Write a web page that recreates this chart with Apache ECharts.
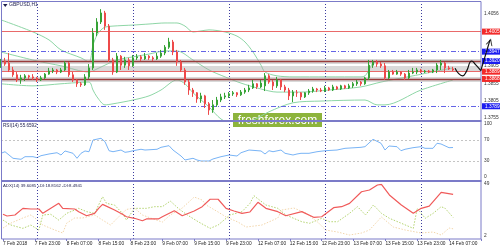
<!DOCTYPE html>
<html><head><meta charset="utf-8">
<script src="https://cdn.jsdelivr.net/npm/echarts@6/dist/echarts.min.js"></script>
<style>html,body{margin:0;padding:0;background:#fff}#c{width:500px;height:250px}</style>
</head><body><div id="c"></div>
<script>
// ---------- data ----------
const tickLabels = ['7 Feb 2018','7 Feb 23:00','8 Feb 07:00','8 Feb 15:00','8 Feb 23:00','9 Feb 07:00','9 Feb 15:00','9 Feb 23:00','12 Feb 07:00','12 Feb 15:00','12 Feb 23:00','13 Feb 07:00','13 Feb 15:00','13 Feb 23:00','14 Feb 07:00'];
const separators = [9, 33, 57, 81, 105];
// [open, close, low, high]
const candles = [
[1.3908,1.3920,1.3900,1.3926],[1.3920,1.3911,1.3906,1.3929],[1.3914,1.3894,1.3888,1.3943],[1.3894,1.3880,1.3874,1.3903],
[1.3880,1.3865,1.3859,1.3888],[1.3865,1.3871,1.3854,1.3880],[1.3871,1.3877,1.3862,1.3882],[1.3877,1.3874,1.3868,1.3880],
[1.3874,1.3871,1.3865,1.3882],[1.3871,1.3865,1.3859,1.3874],[1.3865,1.3871,1.3862,1.3877],[1.3871,1.3882,1.3868,1.3885],
[1.3882,1.3891,1.3880,1.3900],[1.3891,1.3894,1.3885,1.3900],[1.3894,1.3888,1.3882,1.3897],[1.3888,1.3894,1.3885,1.3900],
[1.3894,1.3914,1.3891,1.3920],[1.3914,1.3880,1.3874,1.3917],[1.3880,1.3865,1.3859,1.3888],[1.3865,1.3854,1.3845,1.3868],
[1.3854,1.3851,1.3845,1.3859],[1.3851,1.3874,1.3848,1.3882],[1.3874,1.3900,1.3868,1.3911],[1.3900,1.4001,1.3894,1.4015],
[1.4001,1.4033,1.3992,1.4044],[1.4033,1.4059,1.4027,1.4070],[1.4059,1.4021,1.4010,1.4065],[1.4021,1.3923,1.3917,1.4027],
[1.3923,1.3888,1.3880,1.3929],[1.3888,1.3934,1.3885,1.3943],[1.3934,1.3908,1.3894,1.3937],[1.3908,1.3923,1.3900,1.3932],
[1.3923,1.3906,1.3894,1.3929],[1.3906,1.3929,1.3903,1.3937],[1.3929,1.3932,1.3923,1.3940],[1.3932,1.3926,1.3920,1.3937],
[1.3926,1.3934,1.3923,1.3943],[1.3934,1.3929,1.3923,1.3937],[1.3929,1.3926,1.3920,1.3934],[1.3926,1.3934,1.3923,1.3943],
[1.3934,1.3943,1.3929,1.3952],[1.3943,1.3960,1.3937,1.3966],[1.3960,1.3975,1.3955,1.3987],[1.3975,1.3946,1.3937,1.3981],
[1.3946,1.3917,1.3906,1.3952],[1.3917,1.3894,1.3888,1.3923],[1.3894,1.3859,1.3851,1.3900],[1.3859,1.3836,1.3822,1.3865],
[1.3836,1.3828,1.3816,1.3842],[1.3828,1.3810,1.3799,1.3830],[1.3810,1.3819,1.3799,1.3828],[1.3819,1.3796,1.3784,1.3822],
[1.3796,1.3778,1.3764,1.3801],[1.3778,1.3793,1.3770,1.3807],[1.3793,1.3807,1.3787,1.3816],[1.3807,1.3816,1.3801,1.3825],
[1.3816,1.3819,1.3810,1.3828],[1.3819,1.3825,1.3813,1.3830],[1.3825,1.3828,1.3819,1.3833],[1.3828,1.3822,1.3816,1.3830],
[1.3822,1.3830,1.3819,1.3836],[1.3830,1.3836,1.3825,1.3842],[1.3836,1.3842,1.3830,1.3851],[1.3842,1.3854,1.3839,1.3865],
[1.3854,1.3845,1.3839,1.3856],[1.3845,1.3856,1.3842,1.3865],[1.3848,1.3877,1.3833,1.3885],[1.3877,1.3859,1.3854,1.3882],
[1.3859,1.3848,1.3836,1.3865],[1.3848,1.3865,1.3842,1.3874],[1.3865,1.3845,1.3836,1.3868],[1.3845,1.3836,1.3830,1.3851],
[1.3836,1.3819,1.3807,1.3842],[1.3819,1.3830,1.3801,1.3836],[1.3828,1.3828,1.3816,1.3836],[1.3828,1.3816,1.3807,1.3830],
[1.3816,1.3828,1.3813,1.3830],[1.3828,1.3833,1.3822,1.3839],[1.3833,1.3839,1.3828,1.3845],[1.3839,1.3836,1.3830,1.3842],
[1.3836,1.3833,1.3830,1.3842],[1.3833,1.3842,1.3830,1.3848],[1.3842,1.3836,1.3833,1.3845],[1.3836,1.3845,1.3833,1.3851],
[1.3845,1.3839,1.3836,1.3848],[1.3839,1.3848,1.3836,1.3851],[1.3848,1.3842,1.3839,1.3851],[1.3842,1.3848,1.3839,1.3854],
[1.3848,1.3854,1.3842,1.3859],[1.3854,1.3859,1.3848,1.3865],[1.3859,1.3854,1.3848,1.3862],[1.3854,1.3871,1.3851,1.3874],
[1.3871,1.3908,1.3865,1.3923],[1.3908,1.3917,1.3900,1.3923],[1.3917,1.3911,1.3903,1.3923],[1.3911,1.3906,1.3900,1.3917],
[1.3906,1.3871,1.3865,1.3914],[1.3871,1.3888,1.3868,1.3894],[1.3888,1.3882,1.3880,1.3894],[1.3882,1.3888,1.3880,1.3894],
[1.3888,1.3882,1.3877,1.3891],[1.3882,1.3871,1.3865,1.3885],[1.3871,1.3885,1.3868,1.3894],[1.3885,1.3888,1.3882,1.3900],
[1.3888,1.3894,1.3882,1.3900],[1.3894,1.3888,1.3885,1.3897],[1.3888,1.3891,1.3885,1.3894],[1.3891,1.3888,1.3885,1.3894],
[1.3888,1.3894,1.3885,1.3897],[1.3894,1.3908,1.3885,1.3914],[1.3908,1.3914,1.3894,1.3923],[1.3914,1.3900,1.3885,1.3917],
[1.3900,1.3897,1.3894,1.3906],[1.3897,1.3894,1.3891,1.3903]
];
// Bollinger bands [bar, price]
const bbUpper = [[0,1.4039],[8,1.4004],[12,1.3981],[15,1.3952],[20,1.3929],[22,1.3917],[23,1.3966],[24,1.3995],[25,1.4010],[26,1.4018],[28,1.4021],[33,1.4024],[37,1.4027],[41,1.4030],[44,1.4030],[46,1.4021],[48,1.4004],[50,1.4007],[52,1.4010],[56,1.4004],[59,1.3992],[61,1.3975],[63,1.3946],[65,1.3908],[66,1.3888],[69,1.3877],[73,1.3874],[90,1.3874],[91,1.3877],[92,1.3894],[93,1.3914],[95,1.3920],[113,1.3920]];
const bbMiddle = [[0,1.3946],[9,1.3920],[15,1.3906],[22,1.3888],[24,1.3897],[26,1.3908],[29,1.3923],[33,1.3932],[37,1.3940],[41,1.3949],[44,1.3949],[48,1.3923],[52,1.3894],[56,1.3874],[60,1.3856],[65,1.3839],[69,1.3830],[75,1.3830],[82,1.3836],[90,1.3845],[95,1.3859],[103,1.3877],[113,1.3900]];
const bbLower = [[0,1.3854],[8,1.3848],[15,1.3854],[22,1.3859],[23,1.3836],[24,1.3816],[26,1.3793],[28,1.3796],[33,1.3807],[37,1.3819],[40,1.3836],[44,1.3865],[46,1.3854],[48,1.3828],[52,1.3787],[55,1.3752],[58,1.3738],[62,1.3743],[67,1.3773],[73,1.3799],[80,1.3804],[91,1.3807],[94,1.3793],[96,1.3793],[105,1.3836],[113,1.3865]];
// horizontal levels
const redLevels = [1.4005, 1.3889];
const blueLevels = [1.3947, 1.3789];
const brownLevels = [1.3920, 1.3868];
const shadeLevels = [1.3920, 1.3900, 1.3868];
const redBadges = [1.4005, 1.3889, 1.3868];
const blueBadges = [1.3947, 1.3920, 1.3789];
const priceTicks = [1.4056, 1.3905, 1.3855, 1.3805, 1.3755];
// hand-drawn forecast arrow [bar, price]
const arrowWave = [[113.75,1.3899],[114.6,1.3884],[115.6,1.3877],[116.6,1.3890],[117.9,1.3920],[119,1.3908],[120.2,1.3892]];
const arrowUp = [[120.2,1.3892],[122.5,1.3981]];
// RSI(14)
const rsi = [[0,44.7],[1,47.7],[2,41.5],[3,35.3],[5,33.4],[6,38.3],[8,38.3],[9,36.4],[10,40.2],[12,43.4],[14,45.8],[15,41.5],[16,49.1],[18,44.7],[19,35.3],[20,44.7],[21,49.1],[22,47.7],[23,69.8],[25,73.0],[26,66.6],[27,49.6],[28,47.7],[30,50.9],[31,46.6],[32,47.7],[33,49.6],[35,52.3],[36,50.9],[39,52.3],[40,56.0],[42,59.1],[43,50.9],[45,39.6],[46,32.1],[48,35.3],[49,32.1],[50,30.2],[52,30.2],[53,34.0],[55,38.3],[57,41.5],[59,39.6],[60,45.8],[62,50.9],[65,49.1],[66,43.4],[67,49.6],[68,47.7],[70,50.9],[71,44.7],[73,41.5],[74,43.4],[75,44.7],[77,44.7],[79,47.7],[81,49.6],[84,50.9],[86,54.1],[90,56.0],[91,57.2],[93,71.1],[95,63.6],[96,50.9],[97,58.5],[99,57.2],[100,49.6],[101,52.3],[103,55.3],[105,57.2],[106,54.1],[108,54.1],[109,63.6],[110,62.3],[112,55.3],[113,55.66]];
const rsiTicks = [100, 70, 30, 0];
const rsiLevels = [70, 30];
// ADX(14)
const adx = [[0,21.6],[1,20.1],[3,21.0],[5,27.0],[7,26.4],[9,26.4],[10,22.5],[12,27.0],[14,31.5],[15,27.0],[18,26.4],[19,24.0],[21,20.3],[23,22.5],[24,27.0],[25,30.6],[28,25.5],[30,21.6],[31,19.4],[33,18.0],[35,15.8],[36,17.4],[39,17.4],[40,19.4],[43,24.9],[45,20.3],[48,24.6],[50,28.5],[52,35.2],[54,35.2],[56,27.0],[58,24.6],[60,22.5],[62,23.7],[64,32.5],[66,27.0],[69,24.0],[71,20.3],[75,24.0],[78,18.9],[80,19.4],[83,27.6],[85,28.5],[87,31.5],[90,42.0],[92,43.6],[94,48.1],[95,48.7],[97,39.1],[100,30.0],[103,22.5],[105,27.0],[107,29.0],[110,41.5],[113,39.6]];
const plusDI = [[0,16.4],[2,11.9],[5,8.9],[7,11.9],[9,7.4],[10,21.0],[12,21.6],[14,16.4],[16,22.5],[19,27.0],[21,24.0],[23,22.5],[25,37.5],[26,31.5],[28,30.0],[30,22.5],[31,16.4],[33,27.0],[35,27.0],[36,27.0],[38,28.5],[40,28.5],[42,33.6],[44,27.0],[46,21.6],[49,14.9],[52,8.9],[54,11.9],[57,21.0],[60,24.0],[62,31.5],[63,38.4],[66,30.0],[69,27.0],[71,21.0],[75,14.9],[77,13.5],[80,18.0],[82,14.9],[84,14.9],[87,22.5],[89,28.5],[91,21.0],[93,30.0],[95,22.5],[97,18.0],[100,13.5],[103,8.9],[104,27.0],[106,18.0],[108,22.5],[110,28.5],[111,27.0],[113,18.8]];
const minusDI = [[0,9.2],[2,13.7],[5,18.3],[7,21.0],[8,18.3],[10,11.9],[13,7.4],[15,4.7],[16,13.7],[18,18.3],[20,18.3],[23,21.0],[25,16.4],[27,11.9],[30,22.8],[31,26.0],[33,27.3],[35,21.0],[37,18.3],[40,14.6],[42,21.0],[45,27.3],[48,37.2],[50,34.5],[51,30.0],[54,23.7],[56,19.2],[59,14.6],[61,10.1],[65,11.9],[69,18.3],[70,25.5],[73,27.3],[76,22.8],[79,14.6],[81,7.4],[84,5.6],[87,2.9],[90,4.7],[92,7.4],[95,19.2],[98,10.1],[101,7.4],[105,4.7],[108,5.6],[110,2.9],[112,9.2],[113,8.5]];
const adxTicks = [49, 2];

// ---------- chart ----------
const SLOTS = 121;
const categories = Array.from({length: SLOTS}, (_, i) => String(i));
const FONT = 'Liberation Sans';
const FRAME = '#7b7bc8';
const UP = '#36a336', DN = '#ee4a4a';
const BB = '#8ed6a6';
const CLEAR = 'rgba(0,0,0,0)';
const PMIN = 1.37463, PMAX = 1.40936;

function tickLabelMarks(vals, fmt) {
  return vals.map(v => ({yAxis: v, lineStyle: {color: CLEAR, width: 0.1},
    label: {show: true, position: 'end', distance: 3, formatter: fmt(v), color: '#333', fontSize: 4.8, fontFamily: FONT}}));
}
function badgeMarks(vals, bg) {
  return vals.map(v => ({yAxis: v, lineStyle: {color: CLEAR, width: 0.1},
    label: {show: true, position: 'end', distance: 1, formatter: v.toFixed(4), color: '#fff', backgroundColor: bg,
      fontSize: 4.8, fontFamily: FONT, padding: [1, 3, 0, 3]}}));
}
const mlBase = {silent: true, symbol: ['none', 'none'], animation: false, precision: 6, label: {show: false}};
const tip = arrowUp[arrowUp.length - 1];

const option = {
  animation: false,
  backgroundColor: '#ffffff',
  grid: [
    {left: 1, right: 19, top: 1, height: 120},
    {left: 1, right: 19, top: 124, height: 53},
    {left: 1, right: 19, top: 184, height: 52},
    {left: 1, right: 19, top: 1, height: 238},
    {left: 1, width: 500, top: 1, height: 120}
  ],
  xAxis: [
    {type: 'category', gridIndex: 0, data: categories, boundaryGap: false, show: false},
    {type: 'category', gridIndex: 1, data: categories, boundaryGap: false, show: false},
    {type: 'category', gridIndex: 2, data: categories, boundaryGap: false, offset: 3,
      axisLine: {show: false},
      axisTick: {show: true, interval: 7, length: 2, lineStyle: {color: FRAME}},
      axisLabel: {interval: 7, align: 'left', margin: 2, fontSize: 4.8, fontFamily: FONT, color: '#222',
        formatter: (v, i) => tickLabels[i / 8] || ''},
      splitLine: {show: false}},
    {type: 'category', gridIndex: 3, data: categories, boundaryGap: false, show: false},
    {type: 'value', gridIndex: 4, min: 0, max: 125, show: false}
  ],
  yAxis: [
    {type: 'value', gridIndex: 0, min: PMIN, max: PMAX, show: false},
    {type: 'value', gridIndex: 1, min: 0, max: 100, show: false},
    {type: 'value', gridIndex: 2, min: 2, max: 49, show: false},
    {type: 'value', gridIndex: 3, min: 0, max: 1, show: false},
    {type: 'value', gridIndex: 4, min: PMIN, max: PMAX, show: false}
  ],
  series: [
    // period separators across all panels
    {type: 'line', xAxisIndex: 3, yAxisIndex: 3, data: [], z: 1,
      markLine: Object.assign({}, mlBase, {lineStyle: {type: [1, 2], color: '#3c3ca0', width: 1},
        data: separators.map(i => ({xAxis: i}))})},
    // horizontal levels (behind candles)
    {type: 'line', xAxisIndex: 0, yAxisIndex: 0, data: [], z: 2,
      markLine: Object.assign({}, mlBase, {data: [].concat(
        shadeLevels.map(v => ({yAxis: v, lineStyle: {color: 'rgba(170,170,170,0.45)', width: 5, type: 'solid'}})),
        redLevels.map(v => ({yAxis: v, lineStyle: {color: '#e96a6a', width: 1, type: 'solid'}})),
        brownLevels.map(v => ({yAxis: v, lineStyle: {color: '#9a3c3c', width: 1.3, type: 'solid'}})),
        blueLevels.map(v => ({yAxis: v, lineStyle: {color: '#6464e6', width: 1, type: [5, 2, 1, 2]}}))
      )})},
    // bollinger bands
    {type: 'line', name: 'BB upper', xAxisIndex: 0, yAxisIndex: 0, data: bbUpper, symbol: 'none', smooth: 0.3, z: 3,
      lineStyle: {color: BB, width: 1}},
    {type: 'line', name: 'BB middle', xAxisIndex: 0, yAxisIndex: 0, data: bbMiddle, symbol: 'none', smooth: 0.3, z: 3,
      lineStyle: {color: BB, width: 1}},
    {type: 'line', name: 'BB lower', xAxisIndex: 0, yAxisIndex: 0, data: bbLower, symbol: 'none', smooth: 0.3, z: 3,
      lineStyle: {color: BB, width: 1}},
    // candles
    {type: 'candlestick', name: 'GBPUSD', xAxisIndex: 0, yAxisIndex: 0, data: candles, barWidth: 2, z: 5,
      itemStyle: {color: UP, color0: DN, borderColor: UP, borderColor0: DN, borderWidth: 1}},
    // right-hand price labels
    {type: 'line', xAxisIndex: 0, yAxisIndex: 0, data: [], z: 6,
      markLine: Object.assign({}, mlBase, {data: [].concat(
        tickLabelMarks(priceTicks, v => v.toFixed(4)),
        badgeMarks(redBadges, '#f22a2a'),
        badgeMarks(blueBadges, '#1c1cf0')
      )})},
    // forecast arrow (drawn on a wider overlay grid so it can pass the price scale)
    {type: 'line', xAxisIndex: 4, yAxisIndex: 4, data: arrowWave, symbol: 'none', smooth: 0.5, z: 20,
      lineStyle: {color: '#111', width: 1.2}},
    {type: 'line', xAxisIndex: 4, yAxisIndex: 4, data: arrowUp, symbol: 'none', z: 20,
      lineStyle: {color: '#111', width: 1.2}},
    {type: 'scatter', xAxisIndex: 4, yAxisIndex: 4, data: [tip], z: 21,
      symbol: 'path://M0,10L5,0L10,10L8.4,10L5,3.2L1.6,10Z', symbolSize: [7, 7], symbolRotate: -16, symbolOffset: [0, 2],
      itemStyle: {color: '#111'}},
    // RSI
    {type: 'line', name: 'RSI', xAxisIndex: 1, yAxisIndex: 1, data: rsi, symbol: 'none', z: 4,
      lineStyle: {color: '#79b4f6', width: 1},
      markLine: Object.assign({}, mlBase, {data: [].concat(
        rsiLevels.map(v => ({yAxis: v, lineStyle: {color: '#c4c4c4', width: 1, type: [2, 2]}})),
        tickLabelMarks(rsiTicks, v => String(v))
      )})},
    // ADX
    {type: 'line', name: 'ADX', xAxisIndex: 2, yAxisIndex: 2, data: adx, symbol: 'none', z: 5,
      lineStyle: {color: '#f05a5a', width: 1.2},
      markLine: Object.assign({}, mlBase, {data: tickLabelMarks(adxTicks, v => String(v))})},
    {type: 'line', name: '+DI', xAxisIndex: 2, yAxisIndex: 2, data: plusDI, symbol: 'none', z: 4,
      lineStyle: {color: '#b4d470', width: 1, type: [1.5, 1.5]}},
    {type: 'line', name: '-DI', xAxisIndex: 2, yAxisIndex: 2, data: minusDI, symbol: 'none', z: 4,
      lineStyle: {color: '#f2d6ac', width: 1, type: [1.5, 1.5]}}
  ],
  graphic: [
    {type: 'rect', z: 10, silent: true, shape: {x: 1.5, y: 1.5, width: 479.5, height: 237.5},
      style: {fill: null, stroke: FRAME, lineWidth: 1}},
    {type: 'line', z: 10, silent: true, shape: {x1: 1, y1: 121, x2: 481.5, y2: 121}, style: {stroke: FRAME, lineWidth: 2.2}},
    {type: 'line', z: 10, silent: true, shape: {x1: 1, y1: 181, x2: 481.5, y2: 181}, style: {stroke: FRAME, lineWidth: 2.2}},
    {type: 'polygon', z: 10, silent: true, shape: {points: [[3, 4], [7.5, 4], [5.25, 7]]}, style: {fill: '#1e1e4e'}},
    {type: 'text', z: 10, silent: true, x: 9, y: 2.5, style: {text: 'GBPUSD,H1', fill: '#1e1e4e', font: '5px "Liberation Sans"'}},
    {type: 'text', z: 10, silent: true, x: 3, y: 123.5, style: {text: 'RSI(14) 55.6592', fill: '#1e1e4e', font: '4.6px "Liberation Sans"'}},
    {type: 'text', z: 10, silent: true, x: 3, y: 183.5, style: {text: 'ADX(14) 39.6085 +DI:18.8162 -DI:8.4941', fill: '#1e1e4e', font: '4.3px "Liberation Sans"'}},
    {type: 'group', z: 30, silent: true, children: [
      {type: 'rect', shape: {x: 233, y: 113, width: 89, height: 14}, style: {fill: '#8db43c'}},
      {type: 'text', x: 277.5, y: 120.5, style: {text: 'freshforex.com', fill: '#ffffff', font: '12px "Liberation Sans"', align: 'center', verticalAlign: 'middle'}}
    ]}
  ]
};
const chart = echarts.init(document.getElementById('c'), null, {renderer: 'canvas'});
chart.setOption(option);
</script>
</body></html>
